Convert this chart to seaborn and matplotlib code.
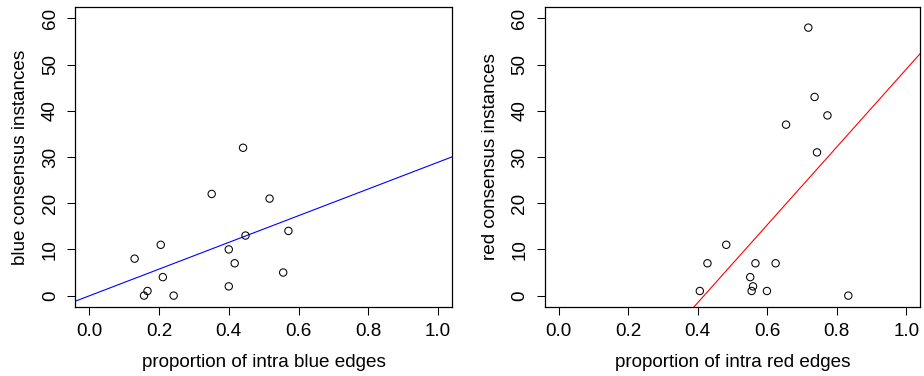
import matplotlib
matplotlib.use("Agg")
import matplotlib.pyplot as plt
import seaborn as sns
import numpy as np
import pandas as pd

# Data
blue_prop = [0.130, 0.205, 0.211, 0.157, 0.167, 0.242, 0.351, 0.400, 0.400,
             0.417, 0.441, 0.448, 0.517, 0.556, 0.571]
blue_inst = [8, 11, 4, 0, 1, 0, 22, 10, 2, 7, 32, 13, 21, 5, 14]

red_prop = [0.406, 0.428, 0.482, 0.551, 0.555, 0.559, 0.566, 0.599, 0.624,
            0.833, 0.718, 0.736, 0.773, 0.654, 0.743]
red_inst = [1, 7, 11, 4, 1, 2, 7, 1, 7, 0, 58, 43, 39, 37, 31]

x_ticks = [0.0, 0.2, 0.4, 0.6, 0.8, 1.0]
y_ticks = [0, 10, 20, 30, 40, 50, 60]

sns.set_theme(style="white")
plt.rcParams["font.family"] = ["Liberation Sans", "DejaVu Sans"]

fig = plt.figure(figsize=(9.24, 3.76), dpi=100)
ax1 = fig.add_axes([75.3 / 924, 69.3 / 376, 376.7 / 924, 299.4 / 376])
ax2 = fig.add_axes([544.7 / 924, 69.3 / 376, 375.6 / 924, 299.4 / 376])

panels = [
    (ax1, blue_prop, blue_inst, "blue", "proportion of intra blue edges", "blue consensus instances"),
    (ax2, red_prop, red_inst, "red", "proportion of intra red edges", "red consensus instances"),
]

fs = 13.6
for ax, xs, ys, col, xl, yl in panels:
    df = pd.DataFrame({"x": xs, "y": ys})
    ax.set_xlim(-0.04, 1.04)
    ax.set_ylim(-2.4, 62.4)
    sns.regplot(data=df, x="x", y="y", ax=ax, scatter=False, ci=None,
                truncate=False, color=col, line_kws=dict(color=col, lw=0.8))
    sns.scatterplot(data=df, x="x", y="y", ax=ax, marker="o", s=28,
                    facecolor="none", edgecolor="black", linewidth=0.75, zorder=3)
    ax.set_xlim(-0.04, 1.04)
    ax.set_ylim(-2.4, 62.4)
    ax.set_xticks(x_ticks)
    ax.set_xticklabels([f"{v:.1f}" for v in x_ticks])
    ax.set_yticks(y_ticks)
    ax.set_yticklabels([str(v) for v in y_ticks], rotation=90, va="center")
    ax.tick_params(axis="both", direction="out", length=5.6, width=0.75,
                   color="black", labelsize=fs, labelcolor="black", pad=6.2,
                   bottom=True, left=True)
    for sp in ax.spines.values():
        sp.set_visible(True)
        sp.set_color("black")
        sp.set_linewidth(0.9)
    ax.set_xlabel(xl, fontsize=fs, color="black", labelpad=10)
    ax.set_ylabel(yl, fontsize=fs, color="black", labelpad=9)
    ax.grid(False)
    ax.set_facecolor("white")

fig.savefig("out.png", dpi=100, facecolor="white")
